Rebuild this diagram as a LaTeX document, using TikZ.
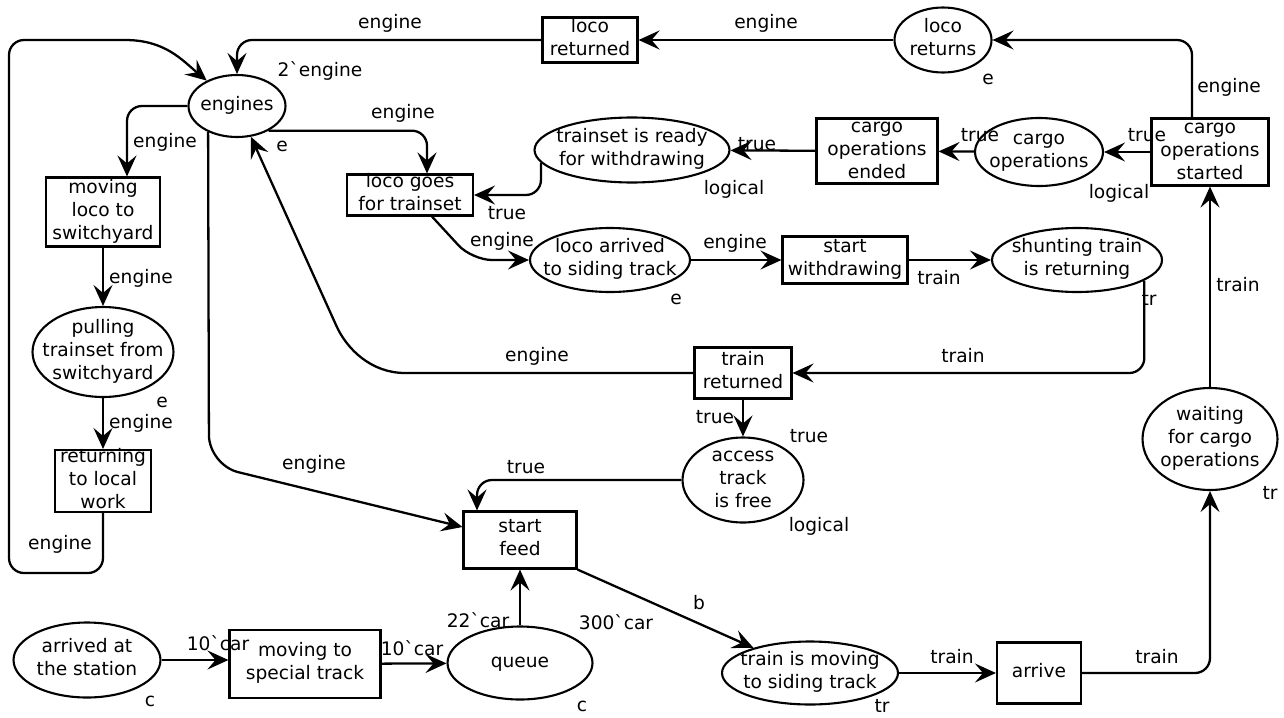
\documentclass[tikz,border=0pt]{standalone}
\usepackage{fontspec}
\newfontfamily\cpnfont{DejaVu Sans}
\usetikzlibrary{arrows.meta,shapes.geometric}
% node text that does not grow the shape
\newcommand{\ntxt}[1]{\smash{\makebox[0pt]{\raisebox{-2.6pt}{\begin{tabular}{@{}c@{}}#1\end{tabular}}}}}

\begin{document}
\begin{tikzpicture}[x=0.02cm,y=-0.02cm,font=\cpnfont\fontsize{10.6}{13}\selectfont,
  place/.style 2 args={draw,ellipse,line width=1.2pt,inner sep=0pt,minimum width=#1,minimum height=#2},
  trans/.style 2 args={draw,rectangle,line width=1.2pt,inner sep=0pt,minimum width=#1,minimum height=#2},
  arc/.style={-{Stealth[length=4.2mm,width=3.8mm,inset=1.6mm]},line width=1.3pt},
  lbl/.style={inner sep=0pt}]
\useasboundingbox (0,0) rectangle (1284,717);
% places
\node[place={1.94cm}{1.24cm}] (eng) at (237,106) {\ntxt{engines}};
\node[place={1.94cm}{1.30cm}] (lrt) at (943,40) {\ntxt{loco\\returns}};
\node[place={3.90cm}{1.30cm}] (tsr) at (632,150) {\ntxt{trainset is ready\\for withdrawing}};
\node[place={2.56cm}{1.36cm}] (cops) at (1039,152) {\ntxt{cargo\\operations}};
\node[place={3.20cm}{1.28cm}] (lar) at (610,260) {\ntxt{loco arrived\\to siding track}};
\node[place={3.40cm}{1.28cm}] (shr) at (1077,260) {\ntxt{shunting train\\is returning}};
\node[place={2.82cm}{1.80cm}] (pull) at (103,352) {\ntxt{pulling\\trainset from\\switchyard}};
\node[place={2.42cm}{1.70cm}] (acc) at (743,480) {\ntxt{access\\track\\is free}};
\node[place={2.70cm}{2.04cm}] (wait) at (1210,439) {\ntxt{waiting\\for cargo\\operations}};
\node[place={2.90cm}{1.46cm}] (queue) at (520,663) {\ntxt{queue}};
\node[place={2.94cm}{1.50cm}] (arrv) at (87,660) {\ntxt{arrived at\\the station}};
\node[place={3.52cm}{1.26cm}] (tmv) at (810,673) {\ntxt{train is moving\\to siding track}};
% transitions
\node[trans={1.90cm}{0.90cm}] (lret) at (590,40) {\ntxt{loco\\returned}};
\node[trans={2.42cm}{1.30cm}] (cend) at (877,151) {\ntxt{cargo\\operations\\ended}};
\node[trans={2.34cm}{1.34cm}] (cstart) at (1210,152) {\ntxt{cargo\\operations\\started}};
\node[trans={2.52cm}{0.82cm}] (lgo) at (410,195) {\ntxt{loco goes\\for trainset}};
\node[trans={2.28cm}{1.38cm}] (mloc) at (103,212) {\ntxt{moving\\loco to\\switchyard}};
\node[trans={1.92cm}{1.24cm}] (rlw) at (103,481) {\ntxt{returning\\to local\\work}};
\node[trans={2.50cm}{0.94cm}] (sw) at (845,260) {\ntxt{start\\withdrawing}};
\node[trans={1.94cm}{1.02cm}] (tret) at (743,373) {\ntxt{train\\returned}};
\node[trans={2.26cm}{1.14cm}] (sfeed) at (520,540) {\ntxt{start\\feed}};
\node[trans={3.02cm}{1.36cm}] (mst) at (305,664) {\ntxt{moving to\\special track}};
\node[trans={1.68cm}{1.22cm}] (arr) at (1039,673) {\ntxt{arrive}};
% arcs
\draw[arc,rounded corners=0.3cm] (lret) -| (eng);
\draw[arc] (lrt) -- (lret);
\draw[arc,rounded corners=0.3cm] ([xshift=-0.36cm]cstart.north) |- (lrt);
\draw[arc] (cstart) -- (cops);
\draw[arc] (cops) -- (cend);
\draw[arc] (cend) -- (tsr);
\draw[arc,rounded corners=0.3cm] (tsr.188) |- (lgo);
\draw[arc,rounded corners=0.3cm] (eng.322) -| ([xshift=0.34cm]lgo.north);
\draw[arc,rounded corners=0.3cm] (eng) -| ([xshift=0.48cm]mloc.north);
\draw[arc] (mloc) -- (pull);
\draw[arc] (pull) -- (rlw);
\draw[arc,rounded corners=0.3cm] (rlw.south) |- (9,573) |- (110,40) .. controls (165,40) and (182,60) .. (eng.140);
\draw[arc,rounded corners=0.6cm] (eng.222) -- (209,465) -- ([yshift=0.26cm]sfeed.west);
\draw[arc] (tret.west) -- (405,373) .. controls (372,373) and (347,350) .. (336,325) -- (eng);
\draw[arc,rounded corners=0.4cm] ([xshift=0.44cm]lgo.south) -- (472,260) -- (lar);
\draw[arc] (lar) -- (sw);
\draw[arc] (sw) -- (shr);
\draw[arc,rounded corners=0.3cm] (shr.343) |- (tret);
\draw[arc] (tret) -- (acc);
\draw[arc,rounded corners=0.3cm] (acc) -| ([xshift=-0.86cm]sfeed.north);
\draw[arc] (queue) -- (sfeed);
\draw[arc] (sfeed.south east) -- (tmv);
\draw[arc] (arrv.east) -- (arrv.east -| mst.west);
\draw[arc] (mst) -- (queue);
\draw[arc] (tmv) -- (arr);
\draw[arc,rounded corners=0.3cm] (arr) -| (wait);
\draw[arc] (wait) -- (cstart);
% inscriptions
\node[lbl] (i1) at (390,23) {engine};
\node[lbl] (i2) at (320,71) {2`engine};
\node[lbl] (i3) at (766,23) {engine};
\node[lbl] (i4) at (988,79) {e};
\node[lbl] (i5) at (1229,87) {engine};
\node[lbl] (i6) at (1147,135) {true};
\node[lbl] (i7) at (980,135) {true};
\node[lbl] (i8) at (757,144) {true};
\node[lbl] (i9) at (1119,193) {logical};
\node[lbl] (i10) at (734,189) {logical};
\node[lbl] (i11) at (507,213) {true};
\node[lbl] (i12) at (403,113) {engine};
\node[lbl] (i13) at (165,142) {engine};
\node[lbl] (i14) at (282,146) {e};
\node[lbl] (i15) at (141,278) {engine};
\node[lbl] (i16) at (162,402) {e};
\node[lbl] (i17) at (141,423) {engine};
\node[lbl] (i18) at (60,544) {engine};
\node[lbl] (i19) at (314,464) {engine};
\node[lbl] (i20) at (537,356) {engine};
\node[lbl] (i21) at (502,241) {engine};
\node[lbl] (i22) at (676,299) {e};
\node[lbl] (i23) at (735,243) {engine};
\node[lbl] (i24) at (939,278) {train};
\node[lbl] (i25) at (1149,299) {tr};
\node[lbl] (i26) at (963,356) {train};
\node[lbl] (i27) at (1238,285) {train};
\node[lbl] (i28) at (1270,493) {tr};
\node[lbl] (i29) at (715,417) {true};
\node[lbl] (i30) at (809,436) {true};
\node[lbl] (i31) at (526,467) {true};
\node[lbl] (i32) at (819,526) {logical};
\node[lbl] (i33) at (478,620) {22`car};
\node[lbl] (i34) at (616,622) {300`car};
\node[lbl] (i35) at (699,603) {b};
\node[lbl] (i36) at (582,706) {c};
\node[lbl] (i37) at (218,643) {10`car};
\node[lbl] (i38) at (412,648) {10`car};
\node[lbl] (i39) at (150,701) {c};
\node[lbl] (i40) at (882,706) {tr};
\node[lbl] (i41) at (952,657) {train};
\node[lbl] (i42) at (1157,657) {train};
\end{tikzpicture}
\end{document}
